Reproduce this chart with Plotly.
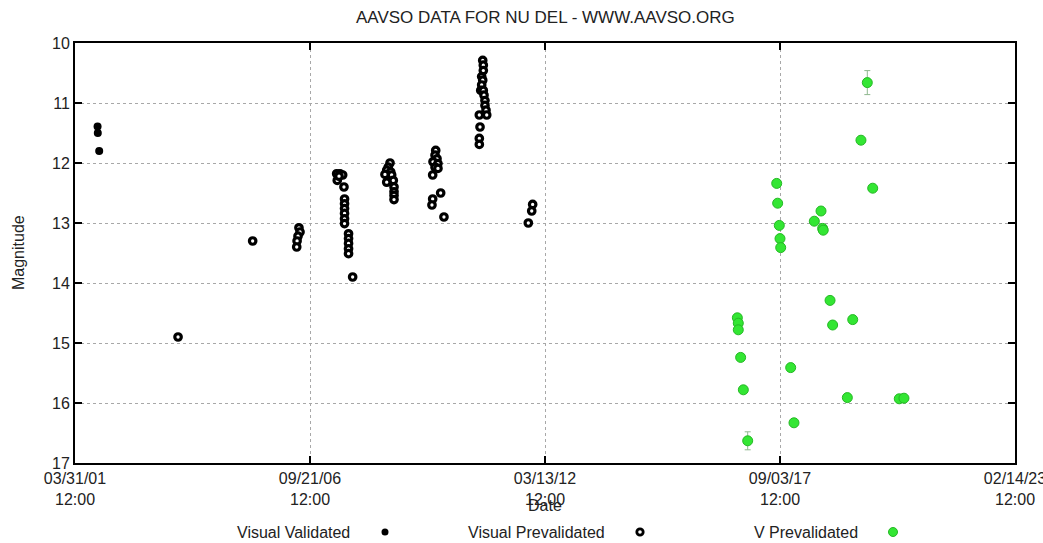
import plotly.graph_objects as go

# Julian dates and magnitudes for each observation set
vis_valid_jd = [2452192, 2452194, 2452206]
vis_valid_mag = [11.39, 11.50, 11.80]

vis_prev_jd = [
    2452877, 2453512,
    2453906, 2453915, 2453898, 2453890, 2453887,
    2454227, 2454255, 2454278, 2454232, 2454247, 2454289,
    2454294, 2454294, 2454294, 2454294, 2454294, 2454294,
    2454328, 2454328, 2454328, 2454328, 2454328, 2454363,
    2454681, 2454666, 2454653, 2454687, 2454638, 2454695, 2454653, 2454709,
    2454715, 2454715, 2454715, 2454715,
    2455070, 2455064, 2455081, 2455047, 2455089, 2455064, 2455089, 2455044,
    2455044, 2455038, 2455112, 2455140,
    2455470, 2455475, 2455475, 2455461, 2455470, 2455461, 2455453, 2455475,
    2455481, 2455489, 2455489, 2455498, 2455504, 2455441, 2455447, 2455441, 2455441,
    2455895, 2455887, 2455858,
]
vis_prev_mag = [
    14.90, 13.30,
    13.08, 13.15, 13.22, 13.30, 13.40,
    12.18, 12.18, 12.20, 12.29, 12.22, 12.40,
    12.60, 12.68, 12.76, 12.84, 12.93, 13.01,
    13.18, 13.26, 13.34, 13.43, 13.51, 13.90,
    12.00, 12.07, 12.12, 12.15, 12.19, 12.20, 12.32, 12.29,
    12.40, 12.48, 12.54, 12.61,
    11.79, 11.87, 11.93, 11.98, 12.01, 12.07, 12.09, 12.20,
    12.60, 12.70, 12.50, 12.90,
    10.29, 10.37, 10.46, 10.56, 10.62, 10.70, 10.79, 10.79,
    10.87, 10.96, 11.04, 11.12, 11.20, 11.20, 11.40, 11.59, 11.69,
    12.69, 12.80, 13.00,
]

v_prev_jd = [
    2458743, 2458689, 2458789,
    2457972, 2457980, 2457994, 2458000, 2458006,
    2458349, 2458292, 2458363, 2458368,
    2458426, 2458448, 2458619,
    2457637, 2457645, 2457645, 2457665, 2457688,
    2458091, 2458573, 2459015, 2459055, 2458119, 2457725,
]
v_prev_mag = [
    10.66, 11.62, 12.42,
    12.34, 12.67, 13.04, 13.26, 13.41,
    12.80, 12.97, 13.09, 13.12,
    14.29, 14.70, 14.61,
    14.58, 14.67, 14.78, 15.24, 15.78,
    15.41, 15.91, 15.93, 15.92, 16.33, 16.63,
]
v_prev_err = [
    0.20, 0, 0,
    0, 0, 0, 0, 0,
    0, 0, 0, 0,
    0, 0, 0,
    0, 0, 0, 0, 0,
    0, 0, 0, 0, 0.04, 0.15,
]

x_ticks_jd = [2452000, 2454000, 2456000, 2458000, 2460000]
x_tick_labels = [
    "03/31/01<br>12:00",
    "09/21/06<br>12:00",
    "03/13/12<br>12:00",
    "09/03/17<br>12:00",
    "02/14/23<br>12:00",
]
y_ticks = [10, 11, 12, 13, 14, 15, 16, 17]

FONT = "Liberation Sans Narrow, Arial Narrow, Liberation Sans, Arial, sans-serif"
TEXT_COLOR = "#222222"

fig = go.Figure()

fig.add_trace(go.Scatter(
    x=vis_valid_jd, y=vis_valid_mag, mode="markers", name="Visual Validated",
    marker=dict(symbol="circle", size=8, color="black", line=dict(width=0)),
))
fig.add_trace(go.Scatter(
    x=vis_prev_jd, y=vis_prev_mag, mode="markers", name="Visual Prevalidated",
    marker=dict(symbol="circle", size=6.5, color="white",
                line=dict(width=3.2, color="black")),
))
fig.add_trace(go.Scatter(
    x=v_prev_jd, y=v_prev_mag, mode="markers", name="V Prevalidated",
    marker=dict(symbol="circle", size=10, color="#33e633",
                line=dict(width=1, color="#25b825")),
    error_y=dict(type="data", array=v_prev_err, visible=True,
                 color="#8fb88f", thickness=1, width=3),
))

axis_common = dict(
    showline=True, linecolor="black", linewidth=2, mirror="ticks",
    ticks="inside", ticklen=7, tickcolor="black", tickwidth=1.5,
    showgrid=True, gridcolor="#a8a8a8", griddash="dot", gridwidth=1,
    zeroline=False, automargin=False,
)

fig.update_xaxes(
    range=[x_ticks_jd[0], x_ticks_jd[-1]],
    tickmode="array", tickvals=x_ticks_jd, ticktext=x_tick_labels,
    ticklabeloverflow="allow",
    tickfont=dict(family=FONT, size=16, color=TEXT_COLOR),
    **axis_common,
)
fig.update_yaxes(
    range=[17, 10], tickmode="array", tickvals=y_ticks,
    ticktext=[str(v) for v in y_ticks],
    tickfont=dict(family=FONT, size=16, color=TEXT_COLOR),
    **axis_common,
)

annotations = [
    dict(text="AAVSO DATA FOR NU DEL - WWW.AAVSO.ORG", xref="paper", yref="paper",
         x=0.5, y=1.0, yshift=26, xanchor="center", yanchor="middle",
         showarrow=False, font=dict(family=FONT, size=17, color=TEXT_COLOR)),
    dict(text="Date", xref="paper", yref="paper", x=0.5, y=0, yshift=-42,
         xanchor="center", yanchor="middle", showarrow=False,
         font=dict(family=FONT, size=16, color=TEXT_COLOR)),
    dict(text="Magnitude", xref="paper", yref="paper", x=0, xshift=-57, y=0.5,
         xanchor="center", yanchor="middle", textangle=-90, showarrow=False,
         font=dict(family=FONT, size=16, color=TEXT_COLOR)),
]

# Key: label followed by its marker, placed under the axes
plot_left, plot_width, plot_height = 75, 940, 420
key_y = -69
key_items = [
    ("Visual Validated", 352, 385, dict(fillcolor="black", line=dict(width=0)), 3.5),
    ("Visual Prevalidated", 607, 640,
     dict(fillcolor="white", line=dict(color="black", width=2.8)), 3.2),
    ("V Prevalidated", 860, 893,
     dict(fillcolor="#33e633", line=dict(color="#25b825", width=1)), 4.5),
]
shapes = []
for label, text_right, mark_x, style, r in key_items:
    annotations.append(dict(
        text=label, xref="paper", yref="paper",
        x=(text_right - plot_left) / plot_width, y=0, yshift=key_y,
        xanchor="right", yanchor="middle", showarrow=False,
        font=dict(family=FONT, size=16, color=TEXT_COLOR)))
    shapes.append(dict(
        type="circle", xref="paper", yref="paper",
        xsizemode="pixel", ysizemode="pixel",
        xanchor=(mark_x - plot_left) / plot_width, yanchor=key_y / plot_height,
        x0=-r, x1=r, y0=-r, y1=r, **style))

fig.update_layout(
    width=1043, height=543,
    margin=dict(l=75, r=28, t=43, b=80),
    paper_bgcolor="white", plot_bgcolor="white",
    showlegend=False,
    annotations=annotations, shapes=shapes,
)

fig.write_html("out.html")
